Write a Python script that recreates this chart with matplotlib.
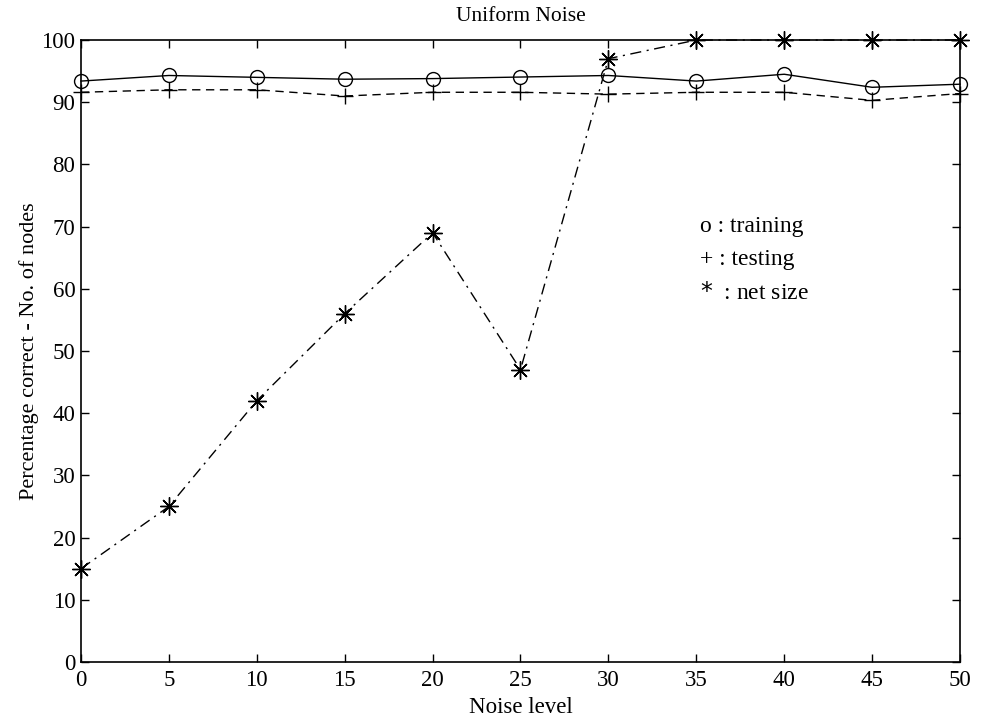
import matplotlib
matplotlib.use("Agg")
import matplotlib.pyplot as plt

plt.rcParams['font.family'] = ['Liberation Serif', 'DejaVu Serif']

noise = [0, 5, 10, 15, 20, 25, 30, 35, 40, 45, 50]
training = [93.4, 94.3, 94.0, 93.7, 93.8, 94.05, 94.3, 93.4, 94.5, 92.4, 92.9]
testing = [91.6, 92.0, 92.0, 91.0, 91.6, 91.6, 91.3, 91.6, 91.6, 90.3, 91.4]
net_size = [15, 25, 42, 56, 69, 47, 97, 100, 100, 100, 100]
xticks = [0, 5, 10, 15, 20, 25, 30, 35, 40, 45, 50]
yticks = [0, 10, 20, 30, 40, 50, 60, 70, 80, 90, 100]

fig = plt.figure(figsize=(9.83, 7.2), dpi=100)
ax = fig.add_axes([0.0824, 0.0806, 0.8942, 0.8638])

ax.plot(noise, training, color='black', lw=1, ls='-', marker='o', ms=10,
        mfc='none', mec='black', mew=1, clip_on=False)
ax.plot(noise, testing, color='black', lw=1, ls=(0, (6, 4)), marker='+', ms=12,
        mew=1, clip_on=False)
ax.plot(noise, net_size, color='black', lw=1, ls=(0, (8, 4, 1.5, 4)),
        marker=(8, 2, 0), ms=13, mew=1, clip_on=False)

ax.set_xlim(0, 50)
ax.set_ylim(0, 100)
ax.set_xticks(xticks)
ax.set_yticks(yticks)
ax.tick_params(direction='in', top=True, right=True, length=6, width=1,
               labelsize=16.5)
ax.tick_params(axis='x', pad=6)
ax.tick_params(axis='y', pad=4)
for s in ax.spines.values():
    s.set_linewidth(1.2)

ax.set_title('Uniform Noise', fontsize=15.5, pad=14)
ax.set_xlabel('Noise level', fontsize=16.5, labelpad=4)
ax.set_ylabel('Percentage correct - No. of nodes', fontsize=16, labelpad=2)

ax.text(35.2, 70, 'o : training', fontsize=17, va='center', ha='left')
ax.text(35.2, 64.7, '+ : testing', fontsize=17, va='center', ha='left')
ax.text(35.2, 59.4, '$*$  : net size', fontsize=17, va='center', ha='left')

fig.savefig('out.png', dpi=100)
